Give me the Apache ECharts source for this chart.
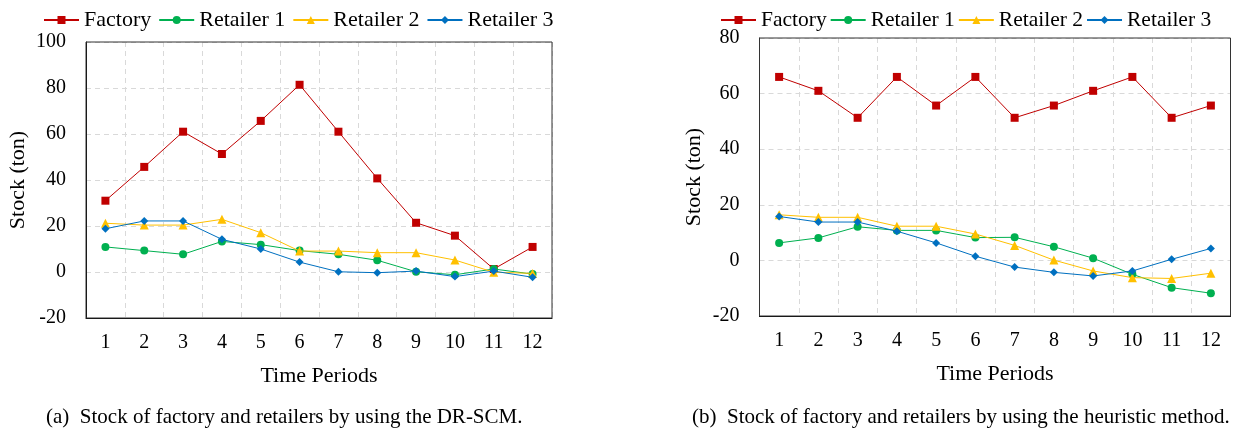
<!DOCTYPE html>
<html>
<head>
<meta charset="utf-8">
<script src="https://cdn.jsdelivr.net/npm/echarts@6/dist/echarts.min.js"></script>
<style>
html,body{margin:0;padding:0;background:#fff;}
#c{width:1238px;height:433px;}
</style>
</head>
<body>
<div id="c"></div>
<script>
const categories = ['1','2','3','4','5','6','7','8','9','10','11','12'];
const seriesNames = ['Factory','Retailer 1','Retailer 2','Retailer 3'];

// (a) DR-SCM
const aFactory   = [31, 45.7, 61, 51.3, 65.7, 81.4, 61, 40.7, 21.4, 15.8, 1.3, 10.9];
const aRetailer1 = [10.9, 9.3, 7.7, 13.3, 11.9, 9.3, 7.7, 5.1, 0.1, -1.2, 1.3, -0.9];
const aRetailer2 = [21.2, 20.4, 20.4, 22.9, 17.1, 9.1, 9.1, 8.4, 8.4, 5.2, -0.1, -0.6];
const aRetailer3 = [18.8, 22.2, 22.2, 14.2, 10, 4.3, 0.1, -0.3, 0.4, -2, 0.4, -2.3];

// (b) heuristic method
const bFactory   = [66, 61, 51.3, 66, 55.7, 66, 51.3, 55.7, 61, 66, 51.3, 55.7];
const bRetailer1 = [6.3, 8.1, 12.1, 10.8, 10.8, 8.2, 8.3, 4.9, 0.8, -5, -9.8, -11.8];
const bRetailer2 = [16.4, 15.5, 15.5, 12.3, 12.3, 9.5, 5.4, 0.1, -3.8, -6.2, -6.5, -4.6];
const bRetailer3 = [15.8, 13.8, 13.8, 10.5, 6.3, 1.5, -2.4, -4.3, -5.6, -3.8, 0.4, 4.3];

const aTicks = {min: -20, max: 100, interval: 20};
const bTicks = {min: -20, max: 80, interval: 20};

const captionA = '(a)  Stock of factory and retailers by using the DR-SCM.';
const captionB = '(b)  Stock of factory and retailers by using the heuristic method.';

const colors = ['#C00000', '#00B050', '#FFC000', '#0070C0'];
const symbols = ['rect', 'circle', 'triangle', 'diamond'];
const symbolSizes = [8, 8, 9, 8];
const FONT = '"Liberation Serif", "Times New Roman", serif';

function xAxis(gridIndex) {
  return {
    type: 'category', gridIndex: gridIndex, data: categories, boundaryGap: true,
    name: 'Time Periods', nameLocation: 'middle', nameGap: 47,
    nameTextStyle: {fontFamily: FONT, fontSize: 22, color: '#000'},
    axisLine: {show: true, onZero: false, lineStyle: {color: '#000', width: 1}},
    axisTick: {show: false},
    axisLabel: {fontFamily: FONT, fontSize: 20, color: '#000', margin: 15, interval: 0},
    splitLine: {show: true, interval: 0, lineStyle: {color: '#d9d9d9', type: [5, 4], width: 1}}
  };
}
function yAxis(gridIndex, t, gap) {
  return {
    type: 'value', gridIndex: gridIndex, min: t.min, max: t.max, interval: t.interval,
    name: 'Stock (ton)', nameLocation: 'middle', nameGap: gap, nameRotate: 90,
    nameTextStyle: {fontFamily: FONT, fontSize: 22, color: '#000'},
    axisLine: {show: true, onZero: false, lineStyle: {color: '#000', width: 1}},
    axisTick: {show: false},
    axisLabel: {fontFamily: FONT, fontSize: 20, color: '#000', margin: 20},
    splitLine: {show: true, lineStyle: {color: '#d9d9d9', type: [5, 4], width: 1}}
  };
}
function mk(name, idx, data, gi) {
  return {
    name: name, type: 'line', xAxisIndex: gi, yAxisIndex: gi, data: data,
    symbol: symbols[idx], symbolSize: symbolSizes[idx], showAllSymbol: true,
    itemStyle: {color: colors[idx]},
    lineStyle: {color: colors[idx], width: 1},
    emphasis: {disabled: true}, animation: false, z: 12 + idx
  };
}
function legend(left, gap, fs) {
  return {
    left: left, top: 4, itemWidth: 35, itemHeight: 10, itemGap: gap, selectedMode: false,
    data: seriesNames,
    textStyle: {fontFamily: FONT, fontSize: fs, color: '#000'}
  };
}

const chart = echarts.init(document.getElementById('c'), null, {renderer: 'canvas'});
chart.setOption({
  animation: false,
  backgroundColor: '#fff',
  legend: [legend(38, 7, 22), legend(715, 3, 21.5)],
  grid: [
    {left: 86, top: 42, width: 466, height: 276, show: true, z: 10, backgroundColor: 'transparent', borderColor: '#333', borderWidth: 1},
    {left: 759.5, top: 38, width: 471, height: 278, show: true, z: 10, backgroundColor: 'transparent', borderColor: '#333', borderWidth: 1}
  ],
  xAxis: [xAxis(0), xAxis(1)],
  yAxis: [yAxis(0, aTicks, 57), yAxis(1, bTicks, 54)],
  series: [
    mk('Factory', 0, aFactory, 0), mk('Retailer 1', 1, aRetailer1, 0),
    mk('Retailer 2', 2, aRetailer2, 0), mk('Retailer 3', 3, aRetailer3, 0),
    mk('Factory', 0, bFactory, 1), mk('Retailer 1', 1, bRetailer1, 1),
    mk('Retailer 2', 2, bRetailer2, 1), mk('Retailer 3', 3, bRetailer3, 1)
  ],
  graphic: [
    {type: 'text', left: 46, top: 407, style: {text: captionA, font: '21px ' + FONT, fill: '#000'}},
    {type: 'text', left: 692, top: 407, style: {text: captionB, font: '21px ' + FONT, fill: '#000'}}
  ]
});
</script>
</body>
</html>
